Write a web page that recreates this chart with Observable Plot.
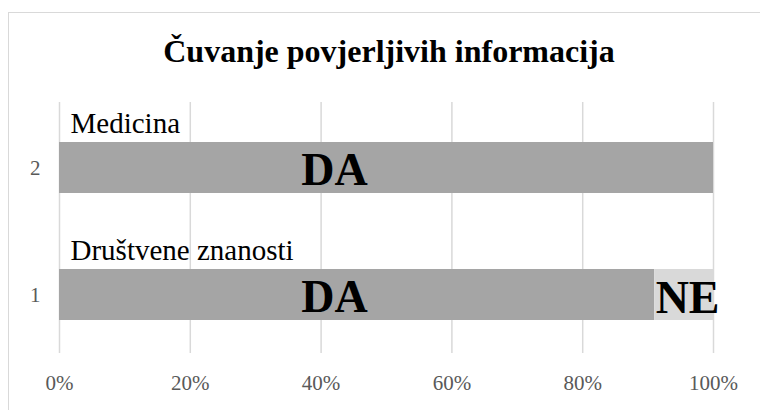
<!DOCTYPE html>
<html>
<head>
<meta charset="utf-8">
<script src="https://cdn.jsdelivr.net/npm/d3@7"></script>
<script src="https://cdn.jsdelivr.net/npm/@observablehq/plot@0.6"></script>
<style>
  html, body { margin: 0; padding: 0; background: #fff; overflow: hidden; }
  #wrap { position: relative; width: 760px; height: 410px; overflow: hidden; font-family: "Liberation Serif", "Times New Roman", serif; }
  #border { position: absolute; left: 8px; top: 12px; width: 780px; height: 430px; border: 1.5px solid #d9d9d9; box-sizing: border-box; }
  #title { position: absolute; left: 0; top: 35px; width: 778px; text-align: center; font-size: 32px; line-height: 32px; font-weight: bold; color: #000; }
  #chart { position: absolute; left: 0; top: 0; }
</style>
</head>
<body>
<div id="wrap">
  <div id="border"></div>
  <div id="chart"></div>
  <div id="title">Čuvanje povjerljivih informacija</div>
</div>
<script>
const categories = ["2", "1"];
const groupNames = ["Medicina", "Društvene znanosti"];
const daValues = [100, 91];
const neValues = [0, 9];
const xTicks = [0, 20, 40, 60, 80, 100];

const rows = categories.map((c, i) => ({cat: c, name: groupNames[i], da: daValues[i], ne: neValues[i]}));
const segs = rows.flatMap(r => [
  {cat: r.cat, answer: "DA", value: r.da},
  {cat: r.cat, answer: "NE", value: r.ne}
]);

const chart = Plot.plot({
  width: 760,
  height: 410,
  marginLeft: 59,
  marginRight: 47,
  marginTop: 102,
  marginBottom: 57,
  style: {fontFamily: "'Liberation Serif', 'Times New Roman', serif", background: "transparent"},
  x: {domain: [0, 100], ticks: xTicks, tickFormat: d => d + "%", label: null},
  y: {domain: categories, paddingInner: 0.602, paddingOuter: 0.2815, align: 0.54, label: null},
  color: {domain: ["DA", "NE"], range: ["#a5a5a5", "#d9d9d9"]},
  marks: [
    Plot.gridX(xTicks, {stroke: "#d9d9d9", strokeOpacity: 1, strokeWidth: 1.5}),
    Plot.barX(segs, Plot.stackX({x: "value", y: "cat", fill: "answer", order: ["DA", "NE"]})),
    Plot.axisX({ticks: xTicks, tickFormat: d => d + "%", tickSize: 0, tickPadding: 22, fontSize: 21, color: "#595959", label: null}),
    Plot.axisY({tickSize: 0, tickPadding: 19, fontSize: 21, color: "#595959", label: null}),
    Plot.text(rows, {x: 0, y: "cat", text: "name", textAnchor: "start", dx: 11, dy: -44, fontSize: 29, fill: "#000"}),
    Plot.text(rows, {x: 0, y: "cat", text: () => "DA", textAnchor: "middle", dx: 275, dy: 2, fontSize: 46, fontWeight: "bold", fill: "#000"}),
    Plot.text(rows.filter(r => r.ne > 0), {x: "da", y: "cat", text: () => "NE", textAnchor: "start", dx: 1, dy: 3, fontSize: 46, fontWeight: "bold", fill: "#000"})
  ]
});
document.getElementById("chart").appendChild(chart);
</script>
</body>
</html>
